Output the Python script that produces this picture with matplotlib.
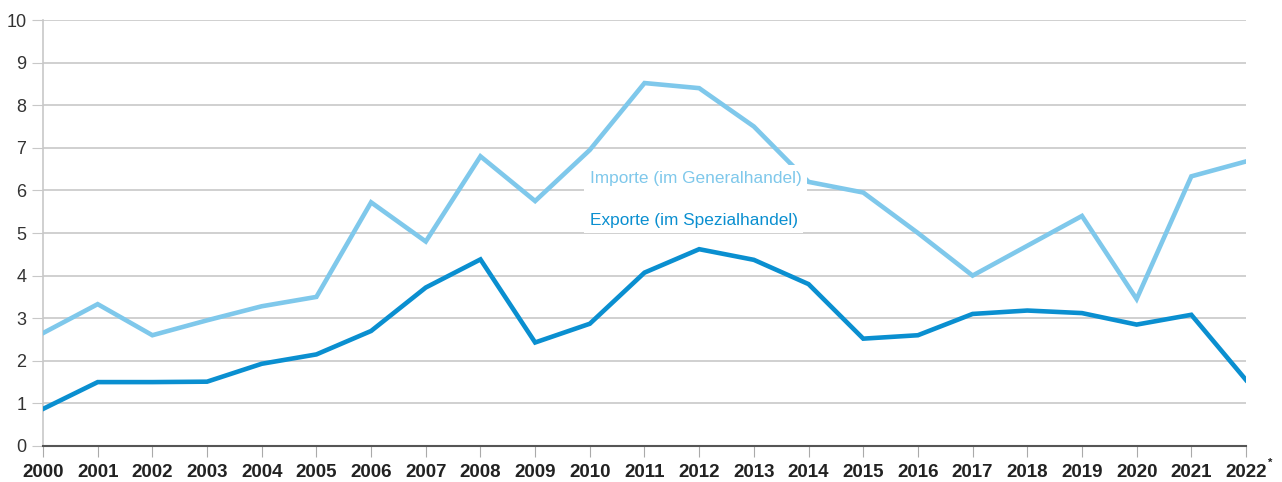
import matplotlib.pyplot as plt

plt.rcParams['font.family'] = ['Liberation Sans', 'DejaVu Sans']

years = list(range(2000, 2023))
year_labels = [str(y) for y in years]

importe = [2.65, 3.33, 2.6, 2.95, 3.28, 3.5, 5.72, 4.8, 6.8, 5.75, 6.95, 8.52,
           8.4, 7.5, 6.2, 5.95, 5.0, 4.0, 4.7, 5.4, 3.45, 6.33, 6.68]
exporte = [0.87, 1.5, 1.5, 1.51, 1.93, 2.15, 2.7, 3.72, 4.38, 2.43, 2.87, 4.07,
           4.62, 4.37, 3.8, 2.52, 2.6, 3.1, 3.18, 3.12, 2.85, 3.08, 1.55]

c_imp = "#7fc8eb"
c_exp = "#0a8fd0"

fig = plt.figure(figsize=(12.82, 4.82), dpi=100)
ax = fig.add_axes([43/1282, 1 - 446/482, (1246-43)/1282, (446-20)/482])

for y in range(1, 11):
    ax.axhline(y, color="#c8c8c8", lw=1.2, zorder=1)

ax.plot(years, importe, color=c_imp, lw=3.3, zorder=3, solid_joinstyle="miter")
ax.plot(years, exporte, color=c_exp, lw=3.3, zorder=3, solid_joinstyle="miter")

# labels with white boxes
ax.text(2010.0, 6.29, "Importe (im Generalhandel)", color=c_imp, fontsize=12.4,
        va="center", ha="left", zorder=4,
        bbox=dict(facecolor="white", edgecolor="none", pad=4))
ax.text(2010.0, 5.3, "Exporte (im Spezialhandel)", color=c_exp, fontsize=12.4,
        va="center", ha="left", zorder=4,
        bbox=dict(facecolor="white", edgecolor="none", pad=4))

ax.set_xlim(2000, 2022)
ax.set_ylim(0, 10)
ax.set_yticks(range(0, 11))
ax.set_xticks(years)
ax.set_xticklabels(year_labels, fontweight="bold", fontsize=13.5, color="#222222")
ax.tick_params(axis="y", length=8, color="#c8c8c8", labelsize=13,
               labelcolor="#333333", pad=4)
ax.tick_params(axis="x", length=8, color="#aaaaaa", pad=5)

# asterisk after the last year
ax.annotate("*", xy=(2022, 0), xycoords="data", xytext=(15.5, -12),
            textcoords="offset points", fontsize=8, fontweight="bold",
            color="#222222", ha="left", va="center")

for s in ["top", "right"]:
    ax.spines[s].set_visible(False)
ax.spines["left"].set_color("#c8c8c8")
ax.spines["left"].set_linewidth(1.2)
ax.spines["bottom"].set_color("#555555")
ax.spines["bottom"].set_linewidth(1.5)
ax.spines["bottom"].set_zorder(5)

fig.savefig("out.png", dpi=100)
